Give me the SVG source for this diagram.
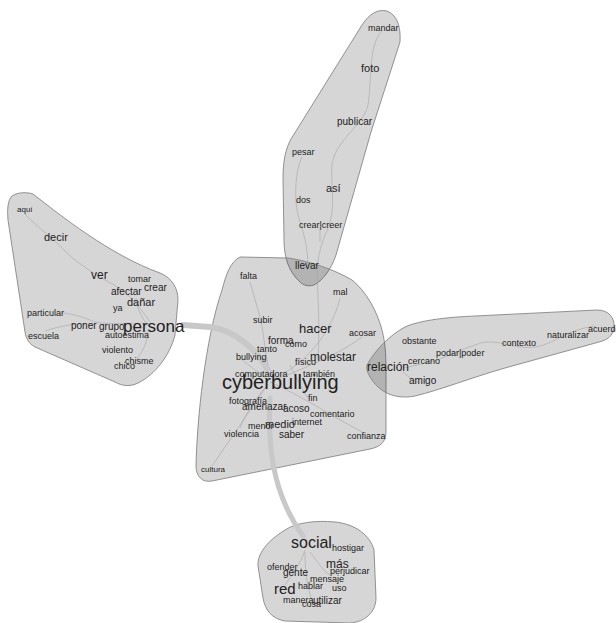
<svg xmlns="http://www.w3.org/2000/svg" width="616" height="623" viewBox="0 0 616 623">
<style>
.hull{fill:#000;fill-opacity:0.16;stroke:#7a7a7a;stroke-width:0.8}
.thin{fill:none;stroke:#a9a9a9;stroke-width:0.8;stroke-opacity:0.8}
.thick{fill:none;stroke:#c8c8c8;stroke-linecap:round}
text{font-family:"Liberation Sans",Arial,sans-serif;fill:#222}
.s8{font-size:8px}.s9{font-size:9px}.s10{font-size:10px}.s11{font-size:11px}.s12{font-size:12px}.s13{font-size:13px}
</style>
<rect width="616" height="623" fill="#fff"/>
<g id="clusters">
<path id="hull-top" class="hull" d="M 300,282 C 289,272 284,258 284,240 L 283,178 C 283,160 286,148 291,139 L 362,25 C 370,13 378,9 387,11 C 397,15 401,26 400,42 L 371,132 L 336,255 C 331,270 322,281 314,285 C 308,287 303,285 300,282 Z"/>
<path id="hull-center" class="hull" d="M 240,257 L 288,258 C 310,261 335,270 352,280 C 366,291 377,311 382,330 C 386,345 386,360 386,375 L 386,432 C 386,442 380,447 370,449 L 212,481 C 202,483 196,476 196,466 C 197,420 205,340 222,290 C 226,275 230,262 240,257 Z"/>
<path id="hull-left" class="hull" d="M 12,196 C 18,192 27,192 33,194 C 60,215 110,255 160,273 C 172,278 178,288 178,300 L 175,335 C 170,355 155,375 138,383 C 130,387 122,386 115,382 L 35,347 C 28,343 26,338 25,332 L 8,220 C 7,208 8,200 12,196 Z"/>
<path id="hull-right" class="hull" d="M 367,365 C 375,350 390,335 405,327 C 420,320 450,317 475,316 L 597,310 C 609,310 615,318 614,328 C 613,336 607,340 599,342 L 505,368 C 470,378 440,390 415,396 C 395,400 380,392 372,380 C 368,374 366,370 367,365 Z"/>
<path id="hull-bottom" class="hull" d="M 285,530 C 295,523 315,520 335,522 C 355,524 370,535 374,550 L 376,598 C 376,612 365,622 350,623 L 285,621 C 272,619 265,610 263,598 L 258,566 C 257,551 272,538 285,530 Z"/>
</g>
<g id="connectors">
<path class="thin" d="M 382,31 C 368,45 372,80 368,105 C 364,125 335,140 332,165 C 330,185 338,210 325,235 C 320,248 318,258 317,270"/>
<path class="thin" d="M 302,157 C 295,170 294,200 298,215 C 303,232 308,245 308,268"/>
<path class="thin" d="M 320,228 L 320,242"/>
<path class="thin" d="M 317,270 C 318,300 320,330 318,360"/>
<path class="thin" d="M 24,213 C 40,230 55,240 62,248 C 75,262 92,272 105,280 C 125,290 135,300 150,322"/>
<path class="thin" d="M 62,313 C 75,314 85,318 95,322 C 110,325 135,322 150,324"/>
<path class="thin" d="M 45,331 C 60,326 75,323 95,324"/>
<path class="thin" d="M 148,330 C 148,345 140,355 133,364"/>
<path class="thin" d="M 148,326 C 140,315 136,305 136,298"/>
<path class="thin" d="M 250,282 C 255,300 262,320 264,340 C 266,355 268,365 270,375"/>
<path class="thin" d="M 340,298 C 335,320 320,345 300,362 C 290,370 280,376 272,380"/>
<path class="thin" d="M 362,337 C 345,350 320,362 275,380"/>
<path class="thin" d="M 270,382 C 300,395 330,415 362,432"/>
<path class="thin" d="M 268,384 C 250,410 230,440 212,466"/>
<path class="thin" d="M 268,384 C 255,400 245,415 240,428"/>
<path class="thin" d="M 268,380 C 255,370 245,362 240,358"/>
<path class="thin" d="M 290,365 C 300,385 305,395 310,400"/>
<path class="thin" d="M 403,368 C 415,366 428,362 437,360 C 450,355 460,350 475,345 C 490,338 505,345 520,347 C 535,349 545,345 555,340 C 568,333 580,328 595,326"/>
<path class="thin" d="M 403,372 C 410,378 415,382 420,383"/>
<path class="thin" d="M 305,550 C 300,565 292,575 285,585"/>
<path class="thin" d="M 310,552 C 318,562 322,570 330,575"/>
<path class="thin" d="M 305,552 C 305,575 308,590 312,600"/>
<path class="thick" stroke-width="6" d="M 183,325 L 210,327 C 235,330 258,350 270,374"/>
<path class="thick" stroke-width="5" d="M 270,398 C 268,440 270,490 303,536"/>
</g>
<g id="n-top">
<g id="n-mandar"><text class="s9" x="368" y="31">mandar</text></g>
<g id="n-foto"><text class="s11" x="361" y="72">foto</text></g>
<g id="n-publicar"><text class="s10" x="337" y="125">publicar</text></g>
<g id="n-pesar"><text class="s9" x="292" y="155">pesar</text></g>
<g id="n-asi"><text class="s11" x="326" y="192">así</text></g>
<g id="n-dos"><text class="s9" x="296" y="203">dos</text></g>
<g id="n-crear-creer"><text class="s9" x="299" y="228">crear|creer</text></g>
<g id="n-llevar"><text class="s10" x="295" y="269">llevar</text></g>
</g>
<g id="n-left">
<g id="n-aqui"><text class="s8" x="17" y="212">aquí</text></g>
<g id="n-decir"><text class="s11" x="44" y="241">decir</text></g>
<g id="n-ver"><text class="s12" x="91" y="279">ver</text></g>
<g id="n-tomar"><text class="s9" x="128" y="282">tomar</text></g>
<g id="n-crear"><text class="s10" x="144" y="291">crear</text></g>
<g id="n-afectar"><text class="s10" x="111" y="295">afectar</text></g>
<g id="n-danar"><text class="s11" x="127" y="306">dañar</text></g>
<g id="n-ya"><text class="s9" x="113" y="311">ya</text></g>
<g id="n-particular"><text class="s9" x="27" y="316">particular</text></g>
<g id="n-poner"><text class="s10" x="71" y="329">poner</text></g>
<g id="n-grupo"><text class="s10" x="99" y="330">grupo</text></g>
<g id="n-autoestima"><text class="s9" x="105" y="338">autoestima</text></g>
<g id="n-persona"><text x="123" y="332" font-size="17">persona</text></g>
<g id="n-escuela"><text class="s9" x="28" y="339">escuela</text></g>
<g id="n-violento"><text class="s9" x="102" y="353">violento</text></g>
<g id="n-chisme"><text class="s9" x="125" y="364">chisme</text></g>
<g id="n-chico"><text class="s9" x="114" y="369">chico</text></g>
</g>
<g id="n-center">
<g id="n-falta"><text class="s9" x="240" y="279">falta</text></g>
<g id="n-mal"><text class="s9" x="333" y="295">mal</text></g>
<g id="n-subir"><text class="s9" x="253" y="323">subir</text></g>
<g id="n-hacer"><text class="s13" x="299" y="333">hacer</text></g>
<g id="n-acosar"><text class="s9" x="349" y="336">acosar</text></g>
<g id="n-forma"><text class="s10" x="268" y="344">forma</text></g>
<g id="n-como"><text class="s9" x="285" y="347">como</text></g>
<g id="n-tanto"><text class="s9" x="257" y="352">tanto</text></g>
<g id="n-bullying"><text class="s9" x="236" y="360">bullying</text></g>
<g id="n-molestar"><text class="s12" x="310" y="361">molestar</text></g>
<g id="n-fisico"><text class="s9" x="295" y="365">físico</text></g>
<g id="n-computadora"><text class="s9" x="235" y="377">computadora</text></g>
<g id="n-tambien"><text class="s9" x="303" y="377">también</text></g>
<g id="n-cyberbullying"><text x="222" y="389" font-size="20">cyberbullying</text></g>
<g id="n-fin"><text class="s9" x="308" y="401">fin</text></g>
<g id="n-fotografia"><text class="s9" x="229" y="404">fotografía</text></g>
<g id="n-amenazar"><text class="s10" x="242" y="410">amenazar</text></g>
<g id="n-acoso"><text class="s10" x="283" y="412">acoso</text></g>
<g id="n-comentario"><text class="s9" x="310" y="417">comentario</text></g>
<g id="n-internet"><text class="s9" x="292" y="425">internet</text></g>
<g id="n-menor"><text class="s9" x="248" y="429">menor</text></g>
<g id="n-medio"><text class="s11" x="265" y="428">medio</text></g>
<g id="n-violencia"><text class="s9" x="224" y="437">violencia</text></g>
<g id="n-saber"><text class="s10" x="279" y="438">saber</text></g>
<g id="n-confianza"><text class="s9" x="347" y="439">confianza</text></g>
<g id="n-cultura"><text class="s8" x="201" y="472">cultura</text></g>
</g>
<g id="n-right">
<g id="n-relacion"><text class="s12" x="367" y="371">relación</text></g>
<g id="n-obstante"><text class="s9" x="402" y="344">obstante</text></g>
<g id="n-podar-poder"><text class="s9" x="436" y="356">podar|poder</text></g>
<g id="n-cercano"><text class="s9" x="408" y="364">cercano</text></g>
<g id="n-amigo"><text class="s10" x="409" y="384">amigo</text></g>
<g id="n-contexto"><text class="s9" x="502" y="346">contexto</text></g>
<g id="n-naturalizar"><text class="s9" x="547" y="338">naturalizar</text></g>
<g id="n-acuerdo"><text class="s9" x="588" y="332">acuerdo</text></g>
</g>
<g id="n-bottom">
<g id="n-social"><text x="291" y="548" font-size="16">social</text></g>
<g id="n-hostigar"><text class="s9" x="332" y="551">hostigar</text></g>
<g id="n-ofender"><text class="s9" x="267" y="570">ofender</text></g>
<g id="n-gente"><text class="s10" x="283" y="576">gente</text></g>
<g id="n-mas"><text class="s12" x="326" y="568">más</text></g>
<g id="n-perjudicar"><text class="s9" x="330" y="574">perjudicar</text></g>
<g id="n-mensaje"><text class="s9" x="310" y="582">mensaje</text></g>
<g id="n-red"><text x="274" y="594" font-size="15">red</text></g>
<g id="n-hablar"><text class="s9" x="298" y="589">hablar</text></g>
<g id="n-uso"><text class="s9" x="332" y="591">uso</text></g>
<g id="n-manera"><text class="s9" x="283" y="603">manera</text></g>
<g id="n-cosa"><text class="s9" x="302" y="607">cosa</text></g>
<g id="n-utilizar"><text class="s10" x="313" y="604">utilizar</text></g>
</g>
</svg>
